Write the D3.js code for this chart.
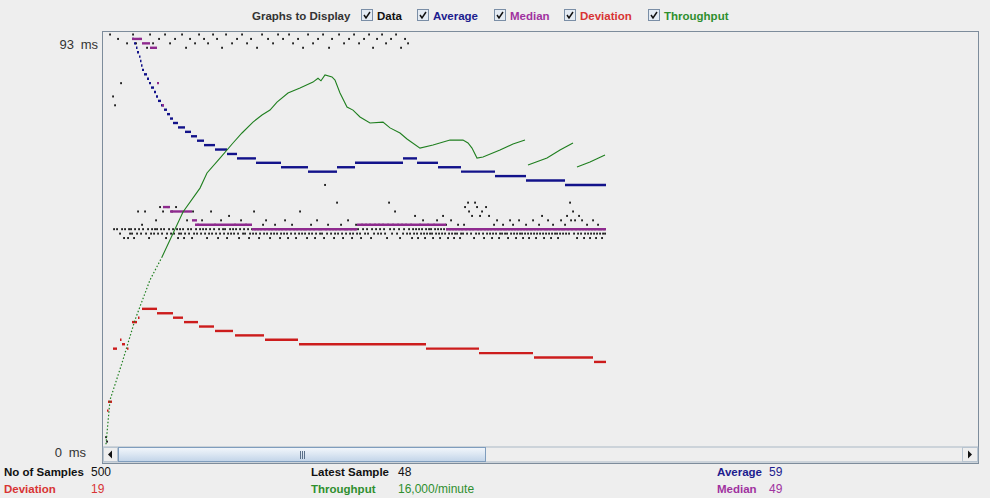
<!DOCTYPE html>
<html>
<head>
<meta charset="utf-8">
<script src="https://cdn.jsdelivr.net/npm/d3@7"></script>
<style>
  body { margin: 0; background: #eeeeee; }
  svg { display: block; font-family: "Liberation Sans", Arial, sans-serif; }
</style>
</head>
<body>
<div id="chart"></div>
<script type="text/javascript">
// legend entries and colours
var legendNames = ["Data", "Average", "Median", "Deviation", "Throughput"];
var legendColors = ["#111111", "#1c1c8e", "#a032a0", "#d83434", "#2e8f2e"];
var yTickLabels = ["93 ms", "0 ms"];
var yTickValues = [93, 0];

// response time of every sample (ms), one per pixel column
var samples = [
  2, 1, 130, 125, 93, 140, 110, 79, 49, 77, 118, 49, 92, 135, 48, 82, 49, 105, 47, 49, 112, 91, 47, 49, 48,
  49, 48, 93, 47, 49, 91, 48, 53, 49, 92, 48, 50, 49, 120, 53, 48, 90, 49, 47, 93, 48, 49, 91, 48, 49,
  51, 49, 48, 92, 54, 49, 48, 53, 49, 93, 47, 48, 54, 49, 91, 48, 53, 49, 48, 92, 54, 49, 47, 48, 49,
  48, 93, 49, 47, 48, 90, 51, 49, 48, 92, 49, 47, 53, 48, 91, 49, 48, 50, 93, 49, 48, 51, 49, 92, 48,
  49, 47, 91, 48, 49, 53, 48, 93, 49, 50, 48, 92, 47, 49, 48, 51, 90, 49, 48, 49, 93, 47, 48, 52, 49,
  48, 91, 49, 48, 50, 49, 92, 48, 47, 49, 51, 93, 48, 49, 48, 50, 91, 49, 47, 48, 92, 49, 48, 53, 49,
  48, 90, 49, 47, 48, 49, 93, 50, 48, 49, 51, 48, 92, 49, 47, 48, 49, 91, 48, 50, 49, 48, 93, 49, 47,
  48, 49, 92, 48, 51, 49, 48, 47, 93, 49, 48, 50, 91, 49, 48, 47, 49, 92, 48, 53, 49, 48, 90, 49, 48,
  49, 47, 93, 48, 49, 50, 48, 91, 49, 47, 48, 51, 92, 49, 48, 49, 48, 93, 47, 59, 49, 48, 50, 90, 49,
  48, 92, 49, 47, 48, 49, 55, 48, 93, 49, 50, 48, 47, 91, 49, 48, 49, 51, 92, 48, 49, 47, 48, 93, 49,
  50, 48, 49, 91, 48, 47, 50, 49, 92, 48, 50, 49, 48, 93, 50, 47, 49, 90, 48, 50, 49, 92, 48, 50, 49,
  48, 93, 50, 49, 48, 91, 47, 50, 55, 49, 92, 48, 50, 49, 53, 93, 48, 50, 49, 47, 90, 50, 48, 49, 92,
  50, 48, 91, 49, 48, 50, 47, 49, 48, 52, 49, 48, 47, 49, 50, 48, 49, 51, 48, 47, 49, 48, 50, 49, 48,
  49, 48, 47, 50, 49, 48, 51, 49, 48, 47, 49, 48, 52, 49, 48, 50, 49, 47, 48, 49, 51, 48, 49, 47, 48,
  49, 48, 50, 49, 47, 48, 49, 48, 50, 54, 49, 48, 55, 53, 49, 48, 52, 49, 47, 55, 48, 54, 49, 48, 52,
  49, 53, 48, 47, 49, 54, 48, 49, 52, 48, 49, 47, 48, 50, 49, 48, 51, 49, 47, 48, 49, 48, 50, 49, 48,
  49, 48, 47, 49, 51, 48, 49, 50, 48, 49, 47, 48, 49, 51, 48, 49, 48, 47, 49, 48, 50, 49, 48, 47, 49,
  48, 49, 51, 48, 49, 47, 48, 49, 50, 48, 49, 52, 48, 47, 49, 48, 49, 51, 48, 49, 47, 48, 50, 49, 48,
  49, 48, 47, 49, 48, 51, 49, 48, 49, 50, 48, 52, 49, 48, 55, 51, 49, 53, 48, 51, 49, 47, 48, 52, 49,
  48, 51, 49, 47, 48, 49, 50, 48, 49, 47, 48, 49, 51, 48, 49, 47, 48, 50, 49, 48, 49, 47, 48, 49, 48
];

// running stats as [fromSample, toSample, ms]
var averageSteps = [
  [26,28,92],[28,30,91],[30,31,90],[31,33,89],[33,34,88],[34,35,87],[35,36,86],[36,38,85],
  [38,41,84],[41,43,83],[43,45,82],[45,48,81],[48,50,80],[50,52,79],[52,55,78],[55,58,77],
  [58,61,76],[61,64,75],[64,67,74],[67,72,73],[72,79,72],[79,85,71],[85,91,70],[91,98,69],
  [98,109,68],[109,121,67],[121,131,66],[131,150,65],[150,175,64],[175,202,63],[202,231,62],
  [231,249,63],[249,297,64],[297,311,65],[311,332,64],[332,355,63],[355,389,62],[389,420,61],
  [420,459,60],[459,500,59]
];
var medianSteps = [
  [26,36,92],[36,44,91],[44,51,90],[51,53,82],[56,58,77],[57,64,54],[64,86,53],[86,91,51],
  [89,146,50],[146,251,49],[251,340,50],[340,500,49]
];
var deviationSteps = [
  [1,2,8],[2,6,10],[7,11,22],[14,15,24],[16,19,23],[21,22,22],[26,31,28],[32,33,29],
  [36,51,31],[51,67,30],[67,77,29],[78,92,28],[93,108,27],[109,127,26],[129,158,25],
  [159,192,24],[193,320,23],[320,373,22],[373,427,21],[428,487,20],[488,500,19]
];

// throughput (requests/minute) at sample index, null = break in the line
var throughputIdx = [0, 4, 16, 29, 44, 56, 77, 94, 101, 114, 127, 136, 147, 156, 164, 171, 182, 194,
  207, 212, 215, 219, 226, 229, 234, 241, 247, 254, 264, 277, 284, 294, 301, 314, 327, 344, 357, 362,
  366, 371, 377, 394, 407, 419, null, 422, 441, 454, 467, null, 471, 484, 499];
var throughputVal = [100, 2530, 4560, 6930, 9130, 10390, 12870, 14180, 15010, 15830, 16660, 17210,
  17810, 18200, 18470, 18910, 19410, 19680, 20010, 20220, 20080, 20400, 20290, 20120, 19410, 18640,
  18470, 18090, 17760, 17810, 17490, 17210, 16880, 16380, 16550, 16820, 16820, 16660, 16380, 15830,
  15890, 16270, 16600, 16820, null, 15450, 15830, 16270, 16660, null, 15340, 15610, 16000];

// bottom summary
var statLabels = [["No of Samples", "500"], ["Deviation", "19"], ["Latest Sample", "48"],
  ["Throughput", "16,000/minute"], ["Average", "59"], ["Median", "49"]];
var statColors = ["#111111", "#d83434", "#111111", "#2e8f2e", "#1c1c8e", "#a032a0"];

var W = 990, H = 498;
var svg = d3.select("#chart").append("svg").attr("width", W).attr("height", H);
svg.append("rect").attr("width", W).attr("height", H).attr("fill", "#eeeeee");

// plot frame
var frame = {left: 102, top: 31, right: 979, bottom: 463};
var x = d3.scaleLinear().domain([0, 500]).range([106, 606]);
var y = d3.scaleLinear().domain([0, 93]).range([446, 34.5]);
var tpY = d3.scaleLinear().domain([0, 16000]).range([446, 155]);

svg.append("defs").append("clipPath").attr("id", "plotclip")
  .append("rect").attr("x", frame.left + 1).attr("y", frame.top + 1)
  .attr("width", frame.right - frame.left - 2).attr("height", 446 - frame.top);

svg.append("rect")
  .attr("x", frame.left + 0.5).attr("y", frame.top + 0.5)
  .attr("width", frame.right - frame.left - 1).attr("height", frame.bottom - frame.top)
  .attr("fill", "#eeeeee").attr("stroke", "#7d8c9b");

var plot = svg.append("g").attr("clip-path", "url(#plotclip)");

// data dots
plot.append("g").selectAll("rect").data(samples).join("rect")
  .attr("x", function(d, i) { return x(i) - 0.75; })
  .attr("y", function(d) { return y(d) - 1; })
  .attr("width", 1.6).attr("height", 2)
  .attr("fill", "#000");

function drawSteps(steps, color) {
  plot.append("g").selectAll("line").data(steps).join("line")
    .attr("x1", function(d) { return x(d[0]); })
    .attr("x2", function(d) { return Math.max(x(d[1]), x(d[0]) + 1.5); })
    .attr("y1", function(d) { return y(d[2]); })
    .attr("y2", function(d) { return y(d[2]); })
    .attr("stroke", color).attr("stroke-width", 2.4);
}
drawSteps(averageSteps, "#12128a");
drawSteps(medianSteps, "#8e2a8e");
drawSteps(deviationSteps, "#cc1c1c");

// throughput: dotted while it climbs steeply, then a plain thin line
var tpData = throughputIdx.map(function(d, i) { return {i: d, v: throughputVal[i]}; });
var tpLine = d3.line()
  .defined(function(d) { return d.i !== null; })
  .x(function(d) { return x(d.i); })
  .y(function(d) { return tpY(d.v); });
var steepEnd = 5;
plot.append("path").datum(tpData.slice(0, steepEnd + 1))
  .attr("d", tpLine)
  .attr("fill", "none").attr("stroke", "#1f7f1f").attr("stroke-width", 1.2)
  .attr("stroke-dasharray", "1.5,2");
plot.append("path").datum(tpData.slice(steepEnd))
  .attr("d", tpLine)
  .attr("fill", "none").attr("stroke", "#1f7f1f").attr("stroke-width", 1.1);

// y labels
var yLabelX = [98, 86];
svg.selectAll(".ylab").data(yTickLabels).join("text")
  .attr("class", "ylab")
  .attr("x", function(d, i) { return yLabelX[i]; })
  .attr("y", function(d, i) { return i == 0 ? y(yTickValues[i]) + 14.5 : y(yTickValues[i]) + 10.5; })
  .attr("text-anchor", "end")
  .attr("font-size", 13).attr("fill", "#333")
  .attr("word-spacing", 3)
  .text(function(d) { return d; });

// scrollbar
var sb = svg.append("g");
sb.append("rect").attr("x", 103).attr("y", 447).attr("width", 875).attr("height", 15)
  .attr("fill", "#eeeeee").attr("stroke", "#9aaabb").attr("stroke-width", 0.8);
var grad = svg.select("defs").append("linearGradient").attr("id", "thumbg")
  .attr("x1", 0).attr("y1", 0).attr("x2", 0).attr("y2", 1);
grad.append("stop").attr("offset", "0%").attr("stop-color", "#f3f7fc");
grad.append("stop").attr("offset", "50%").attr("stop-color", "#dbe6f2");
grad.append("stop").attr("offset", "100%").attr("stop-color", "#c2d4e8");
sb.append("rect").attr("x", 118.5).attr("y", 447.5).attr("width", 367).attr("height", 14)
  .attr("fill", "url(#thumbg)").attr("stroke", "#7f9dbd");
[300, 302, 304].forEach(function(gx) {
  sb.append("line").attr("x1", gx + 0.5).attr("x2", gx + 0.5).attr("y1", 451).attr("y2", 459)
    .attr("stroke", "#5a6f88");
});
sb.append("rect").attr("x", 103.5).attr("y", 447.5).attr("width", 14).attr("height", 14)
  .attr("fill", "#eeeeee").attr("stroke", "#b8c4d0");
sb.append("path").attr("d", "M108,454.5 L112,450.5 L112,458.5 Z").attr("fill", "#111");
sb.append("rect").attr("x", 962.5).attr("y", 447.5).attr("width", 15).attr("height", 14)
  .attr("fill", "#eeeeee").attr("stroke", "#b8c4d0");
sb.append("path").attr("d", "M972,454.5 L968,450.5 L968,458.5 Z").attr("fill", "#111");

// legend at the top
svg.append("text").attr("x", 252).attr("y", 19.5).attr("font-size", 11.5)
  .attr("fill", "#333").attr("font-weight", "bold").text("Graphs to Display");
var boxX = [361, 417, 494, 564, 648];
var leg = svg.selectAll(".leg").data(legendNames).join("g").attr("class", "leg")
  .attr("transform", function(d, i) { return "translate(" + boxX[i] + ",9)"; });
leg.append("rect").attr("x", 0.5).attr("y", 0.5).attr("width", 11).attr("height", 11)
  .attr("fill", "#e4ebf3").attr("stroke", "#7a8ea6");
leg.append("path").attr("d", "M3,6 L5,9 L9,3").attr("fill", "none")
  .attr("stroke", "#111").attr("stroke-width", 1.5);
leg.append("text").attr("x", 16).attr("y", 10.5).attr("font-size", 11.5)
  .attr("font-weight", "bold")
  .attr("fill", function(d, i) { return legendColors[i]; })
  .text(function(d) { return d; });

// bottom stats
var statX = [[4, 91], [4, 91], [311, 398], [311, 398], [717, 769], [717, 769]];
var statY = [476, 493, 476, 493, 476, 493];
statLabels.forEach(function(s, i) {
  svg.append("text").attr("x", statX[i][0]).attr("y", statY[i]).attr("font-size", 11.5)
    .attr("font-weight", "bold").attr("fill", statColors[i]).text(s[0]);
  svg.append("text").attr("x", statX[i][1]).attr("y", statY[i]).attr("font-size", 12)
    .attr("fill", statColors[i] == "#111111" ? "#111" : statColors[i]).text(s[1]);
});
</script>
</body>
</html>
